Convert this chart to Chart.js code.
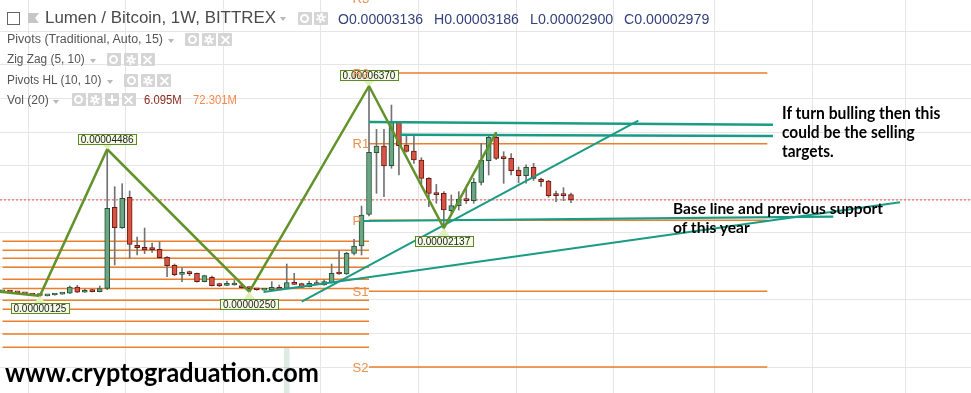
<!DOCTYPE html>
<html><head><meta charset="utf-8">
<script src="https://cdn.jsdelivr.net/npm/chart.js@4.4.1/dist/chart.umd.min.js"></script>
<style>
html,body{margin:0;padding:0;background:#fff;}
#wrap{position:relative;width:971px;height:393px;overflow:hidden;background:#fff}
#c{position:absolute;left:0;top:0}
.t{position:absolute;white-space:nowrap;line-height:1;transform-origin:0 0;}
.hdr{font-family:"Liberation Sans",Arial,sans-serif;color:#4a4a4a}
.ann{font-family:Lato,sans-serif;font-weight:700;color:#000}
.ico{position:absolute;width:14px;height:13px;background:#d5d5d5;border-radius:1px;overflow:hidden}
.ico i{position:absolute;display:block}
.dd{position:absolute;width:0;height:0;border-left:3.5px solid transparent;border-right:3.5px solid transparent;border-top:4px solid #b8b8b8}
</style></head>
<body><div id="wrap"><canvas id="c" width="971" height="393"></canvas></div>
<script>
// ---------------- DATA (prices in satoshi, 1e-8 BTC) ----------------
const candleOpen  = [245,240,222,192,155,140,125,150,175,200,385,230,305,248,348,2759,2152,3056,1627,1567,1518,1508,1270,1032,764,794,794,546,675,456,437,446,426,378,310,296,298,378,348,516,486,397,486,446,516,804,774,1389,1607,2550,4384,4583,3998,5288,4613,4434,4166,3622,3155,3175,2658,2807,2997,2956,3502,4146,4842,4247,4217,3869,3700,3948,3592,3541,3145,3145,3136];
const candleHigh  = [262,250,228,198,160,150,155,185,212,417,437,320,315,417,4486,3372,3461,3244,1875,2143,1696,1736,1290,1071,962,863,804,740,714,500,565,580,440,390,320,310,546,446,1071,794,500,560,586,600,1071,1458,1420,1806,2797,6370,5080,5080,5803,5300,4910,4910,4236,3640,3440,3224,3125,3224,3350,3621,4663,4900,4990,4414,4355,3958,4020,4068,3631,3560,3244,3343,3186];
const candleLow   = [238,228,210,180,140,125,120,145,170,195,220,225,240,240,307,1042,2130,1260,1339,1379,1418,1240,694,724,546,724,530,540,420,400,430,440,350,250,290,285,290,310,340,460,370,390,450,440,500,760,760,1339,1339,2500,3175,3075,3919,3720,4400,4068,3452,2777,2880,2137,2600,2678,2877,2877,3422,3720,4180,3473,3720,3492,3480,3560,3383,3056,2926,2956,2900];
const candleClose = [252,236,215,185,150,135,150,180,205,385,230,290,248,337,2729,2152,3026,1657,1557,1488,1497,1260,1022,754,794,784,546,724,426,426,467,476,366,337,305,300,378,318,516,467,378,497,456,546,794,774,1389,1607,2530,4395,4583,3988,5288,4593,4425,4166,3622,3175,3135,2678,2807,3006,2956,3502,4166,4842,4217,4206,3848,3700,3948,3621,3521,3105,3105,3105,2979];

const zigzagIdx = [-1, 5, 14, 33, 49, 59, 66];
const zigzagVal = [259, 125, 4486, 250, 6370, 2137, 4990];
const zigzagLabelled = [false, true, true, true, true, true, false];

const prevPivotLevels = [1747, 1482, 1241, 973, 619, 345, -9, -277, -634, -1012, -1408];
const curPivotNames  = ['R3', 'R2', 'R1', 'P', 'S1', 'S2'];
const curPivotLevels = [8990, 6755, 4652, 2372, 258, -1995];

const trendStartX = [49, 53.14, 40.0, 34.9, 48.24];
const trendStartY = [5300, 4915, -51, 238, 2351];
const trendEndX   = [103.0, 103.0, 85.0, 120.0, 111.07];
const trendEndY   = [5217, 4881, 5336, 2908, 2479];
const trendWidth  = [2.5, 2.5, 2, 2, 2.2];

const volumeIdx = [38];
const volumeTop = [-1428];

const priceGridTicks = [-2000,-1000,0,1000,2000,3000,4000,5000,6000,7000,8000];
const timeGridTicks  = [10.0, 23.02, 36.12, 49.0, 62.23, 75.2, 88.21, 102.25, 114.28, 127.2];

// ---------------- layout constants ----------------
const X_MIN = -0.334, X_MAX = 129.48, Y_MIN = -2768, Y_MAX = 8929;
const PREV_START = 0, CUR_START = 49, CUR_END = 102.25;

const UP='#6ba583', UPB='#225437', DN='#d75442', DNB='#6b1a12', WICK='#737375';
const ORANGE='#ec7f2c', TEAL='#1a9c84', ZZ='#62922a';
const idx = candleOpen.map((_, i) => i);
const isUp = i => candleClose[i] >= candleOpen[i];
const last = candleClose.length - 1;

const pivotData = [];
prevPivotLevels.forEach(v => pivotData.push({x:PREV_START,y:v},{x:CUR_START,y:v},{x:CUR_START,y:null}));
curPivotLevels.forEach(v => pivotData.push({x:CUR_START,y:v},{x:CUR_END,y:v},{x:CUR_END,y:null}));

const trendSets = trendStartX.map((sx, k) => ({
  type:'line', order:2, data:[{x:sx,y:trendStartY[k]},{x:trendEndX[k],y:trendEndY[k]}],
  borderColor:TEAL, borderWidth:trendWidth[k], pointRadius:0, tension:0
}));

const fmt = v => (v*1e-8).toFixed(8);

const overlay = {
  id:'overlay',
  afterDatasetsDraw(chart){
    const {ctx, scales:{x, y}} = chart;
    ctx.save();
    // zigzag labels
    ctx.font = '10px "Liberation Sans", Arial, sans-serif';
    ctx.textAlign = 'center'; ctx.textBaseline = 'middle';
    zigzagIdx.forEach((xi, k) => {
      if (!zigzagLabelled[k]) return;
      const v = zigzagVal[k];
      const peak = v > zigzagVal[k-1] && v > (zigzagVal[k+1] ?? -Infinity);
      const px = x.getPixelForValue(xi), py = y.getPixelForValue(v);
      const txt = fmt(v);
      const w = Math.round(ctx.measureText(txt).width) + 5, h = 10;
      const top = peak ? py - 5.5 - h : py + 7.7;
      // triangle marker
      ctx.fillStyle = '#e2efbf';
      ctx.beginPath();
      if (peak){ ctx.moveTo(px-6, top+h); ctx.lineTo(px+6, top+h); ctx.lineTo(px, py); }
      else { ctx.moveTo(px-6, top); ctx.lineTo(px+6, top); ctx.lineTo(px, py); }
      ctx.closePath(); ctx.fill();
      ctx.fillStyle = '#f3f9e2';
      ctx.fillRect(Math.round(px - w/2)+0.5, Math.round(top)+0.5, w, h);
      ctx.strokeStyle = '#5a8c22'; ctx.lineWidth = 1;
      ctx.strokeRect(Math.round(px - w/2)+0.5, Math.round(top)+0.5, w, h);
      ctx.fillStyle = '#222';
      ctx.fillText(txt, px, Math.round(top) + h/2 + 1);
    });
    // pivot labels
    ctx.font = '13px "Liberation Sans", Arial, sans-serif';
    ctx.textAlign = 'left'; ctx.fillStyle = '#e8904e';
    const lx = x.getPixelForValue(CUR_START) - 16.5;
    curPivotNames.forEach((n, k) => {
      ctx.fillText(n, lx, y.getPixelForValue(curPivotLevels[k]) + 1);
    });
    ctx.restore();
  }
};

new Chart(document.getElementById('c'), {
  type:'bar',
  data:{ datasets:[
    {type:'line', label:'ZigZag', order:1, data:zigzagIdx.map((xi,k)=>({x:xi,y:zigzagVal[k]})),
      borderColor:ZZ, borderWidth:2.5, pointRadius:0, tension:0},
    ...trendSets,
    {type:'bar', label:'Body', order:5, data:idx.map(i=>({x:i,y:[candleOpen[i],candleClose[i]]})),
      backgroundColor:c=>isUp(c.dataIndex)?UP:DN, borderColor:c=>isUp(c.dataIndex)?UPB:DNB,
      borderWidth:1, borderSkipped:false, barThickness:5, grouped:false, minBarLength:2},
    {type:'bar', label:'Wick', order:6, data:idx.map(i=>({x:i,y:[candleLow[i],candleHigh[i]]})),
      backgroundColor:WICK, borderWidth:0, barThickness:1, grouped:false},
    {type:'line', label:'Last', order:7, data:[{x:X_MIN,y:candleClose[last]},{x:X_MAX,y:candleClose[last]}],
      borderColor:'#ef4f46', borderWidth:1, borderDash:[2,2], pointRadius:0},
    {type:'line', label:'Pivots', order:8, data:pivotData, borderColor:ORANGE, borderWidth:1.5,
      pointRadius:0, spanGaps:false, tension:0},
    {type:'bar', label:'Vol', order:9, data:volumeIdx.map((xi,k)=>({x:xi,y:[Y_MIN,volumeTop[k]]})),
      backgroundColor:'rgba(107,165,131,0.22)', borderWidth:0, barThickness:5, grouped:false}
  ]},
  options:{
    responsive:false, animation:false, devicePixelRatio:1,
    layout:{padding:0},
    plugins:{legend:{display:false}, tooltip:{enabled:false}},
    scales:{
      x:{type:'linear', min:X_MIN, max:X_MAX, offset:false,
         grid:{color:'#e6e6e6', lineWidth:1, drawTicks:false, tickLength:0}, border:{display:false},
         ticks:{display:false}, afterBuildTicks:s=>{ s.ticks = timeGridTicks.map(v=>({value:v})); }},
      y:{type:'linear', min:Y_MIN, max:Y_MAX,
         grid:{color:'#e6e6e6', lineWidth:1, drawTicks:false, tickLength:0}, border:{display:false},
         ticks:{display:false}, afterBuildTicks:s=>{ s.ticks = priceGridTicks.map(v=>({value:v})); }}
    }
  },
  plugins:[overlay]
});

// ---------------- header / annotation text (real DOM text) ----------------
const wrap = document.getElementById('wrap');
const LIB_K = 0.8465, LATO_K = 0.887;
const ohlcColor = '#34427a';
const texts = [
  {t:'Lumen / Bitcoin, 1W, BITTREX', x:45, b:23.3, s:16, w:231, c:'#4a4a4a', cls:'hdr'},
  {t:'O'+fmt(candleOpen[last]),  x:338.3, b:23.3, s:15, w:85,   c:ohlcColor, cls:'hdr'},
  {t:'H'+fmt(candleHigh[last]),  x:434.3, b:23.3, s:15, w:85,   c:ohlcColor, cls:'hdr'},
  {t:'L'+fmt(candleLow[last]),   x:530,   b:23.3, s:15, w:83.3, c:ohlcColor, cls:'hdr'},
  {t:'C'+fmt(candleClose[last]), x:624,   b:23.3, s:15, w:85.3, c:ohlcColor, cls:'hdr'},
  {t:'Pivots (Traditional, Auto, 15)', x:7.3, b:42.8, s:12, w:156, c:'#555', cls:'hdr'},
  {t:'Zig Zag (5, 10)', x:7.3, b:63.3, s:12, w:77.7, c:'#555', cls:'hdr'},
  {t:'Pivots HL (10, 10)', x:7.3, b:83.8, s:12, w:94.4, c:'#555', cls:'hdr'},
  {t:'Vol (20)', x:7.3, b:104, s:12, w:41.7, c:'#555', cls:'hdr'},
  {t:'6.095M', x:144, b:104, s:12, w:37.7, c:'#8b2a1f', cls:'hdr'},
  {t:'72.301M', x:192.7, b:104, s:12, w:44, c:'#f7894a', cls:'hdr'},
  {t:'If turn bulling then this', x:781.7, b:119.3, s:16.5, w:158.3, c:'#000', cls:'ann'},
  {t:'could be the selling', x:781.7, b:138.3, s:16.5, w:132.6, c:'#000', cls:'ann'},
  {t:'targets.', x:781.7, b:157.3, s:16.5, w:51.6, c:'#000', cls:'ann'},
  {t:'Base line and previous support', x:673.3, b:214.3, s:16, w:210, c:'#000', cls:'ann'},
  {t:'of this year', x:673.3, b:233.3, s:16, w:76.7, c:'#000', cls:'ann'},
  {t:'www.cryptograduation.com', x:5, b:381.7, s:27, w:314, c:'#000', cls:'ann'}
];
texts.forEach(o => {
  const d = document.createElement('div');
  d.className = 't ' + o.cls;
  d.textContent = o.t;
  const k = o.cls === 'ann' ? LATO_K : LIB_K;
  d.style.cssText += `left:${o.x}px;top:${o.b - k*o.s}px;font-size:${o.s}px;color:${o.c}`;
  wrap.appendChild(d);
  const bw = d.getBoundingClientRect().width;
  if (bw > 0) d.style.transform = `scaleX(${o.w / bw})`;
});

// icons (non-text UI glyphs)
function addEl(cls, css, parent){ const e=document.createElement(cls==='i'?'i':'div'); if(cls!=='i') e.className=cls; e.style.cssText=css; (parent||wrap).appendChild(e); return e; }
const iconRows = [
  {y:11.7, xs:[297.7,314.3], k:['eye','gear']},
  {y:33.3, xs:[185,201.7,218.3], k:['eye','gear','x']},
  {y:53.3, xs:[106.7,124,140.7], k:['eye','gear','x']},
  {y:74,   xs:[124,140.7,157.3], k:['eye','gear','x']},
  {y:93.3, xs:[71.7,88.3,105,121.7], k:['eye','gear','plus','x']}
];
iconRows.forEach(r => r.xs.forEach((x, j) => {
  const ic = addEl('ico', `left:${x}px;top:${r.y}px`);
  const kind = r.k[j];
  if (kind === 'eye') {
    addEl('i','left:2.5px;top:2px;width:9px;height:9px;border:2px solid #fff;border-radius:50%;box-sizing:border-box', ic);
  } else if (kind === 'gear') {
    addEl('i','left:2px;top:1.5px;width:10px;height:10px;border:2.5px dotted #fff;border-radius:50%;box-sizing:border-box', ic);
    addEl('i','left:4px;top:3.5px;width:6px;height:6px;border:2px solid #fff;border-radius:50%;box-sizing:border-box', ic);
  } else if (kind === 'x') {
    addEl('i','left:1.5px;top:5.5px;width:11px;height:2px;background:#fff;transform:rotate(45deg)', ic);
    addEl('i','left:1.5px;top:5.5px;width:11px;height:2px;background:#fff;transform:rotate(-45deg)', ic);
  } else if (kind === 'plus') {
    addEl('i','left:2.5px;top:5.5px;width:9px;height:2px;background:#fff', ic);
    addEl('i','left:6px;top:2px;width:2px;height:9px;background:#fff', ic);
  }
}));
[[280,16.5],[168,38.8],[90,59.3],[106.7,79.8],[53.3,100]].forEach(p => addEl('dd', `left:${p[0]}px;top:${p[1]}px`));
// collapse box and flag
const box = addEl('', 'position:absolute;left:6.5px;top:11.5px;width:13px;height:13px;border:1px solid #666;box-sizing:border-box');
addEl('i','left:2px;top:5px;width:7px;height:1px;background:#666', box);
addEl('', 'position:absolute;left:28px;top:13px;width:11px;height:10px;background:#c6c6c6;clip-path:polygon(0 0,100% 0,65% 50%,100% 100%,0 100%)');
</script></body></html>
